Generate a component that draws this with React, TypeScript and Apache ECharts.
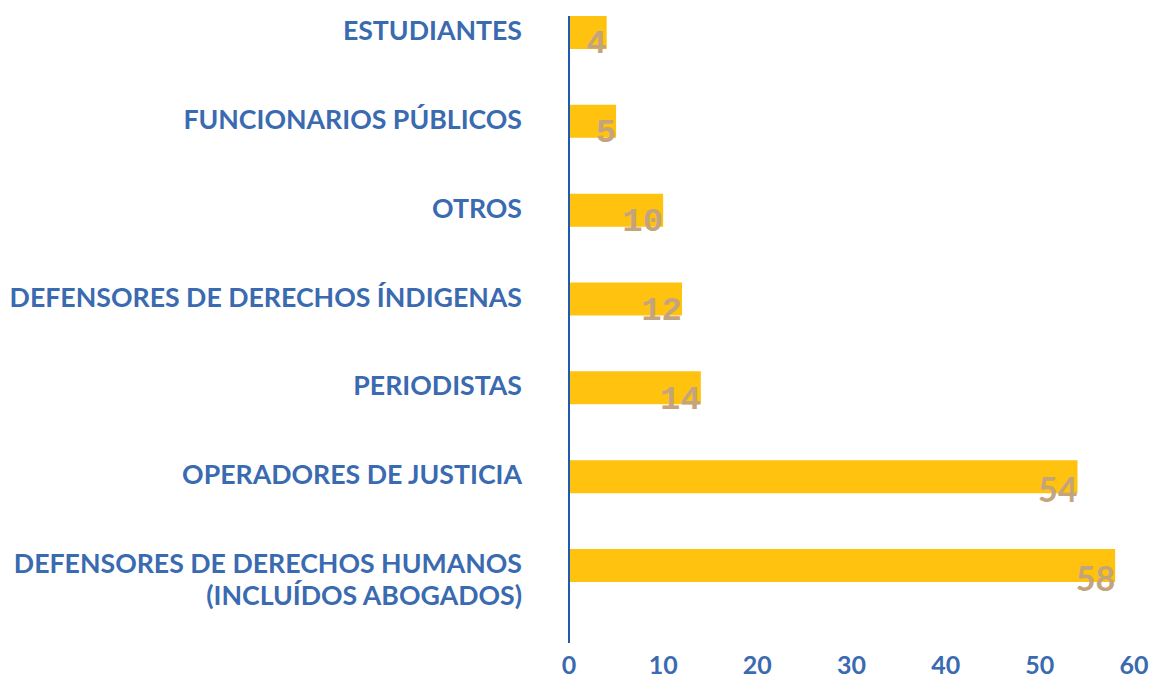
import React, { useEffect, useRef } from "react";
import * as echarts from "echarts";

const categories = [
  "ESTUDIANTES",
  "FUNCIONARIOS PÚBLICOS",
  "OTROS",
  "DEFENSORES DE DERECHOS ÍNDIGENAS",
  "PERIODISTAS",
  "OPERADORES DE JUSTICIA",
  "DEFENSORES DE DERECHOS HUMANOS\n(INCLUÍDOS ABOGADOS)",
];
const values = [4, 5, 10, 12, 14, 54, 58];
const monoLabels = [true, true, true, true, true, false, false];
const xTicks = { min: 0, max: 60, interval: 10 };

const BLUE = "#3A6AB0";
const BAR = "#FFC20E";
const LABEL = "#C4A47C";
const FS = 26.7;

export default function App() {
  const ref = useRef<HTMLDivElement>(null);
  useEffect(() => {
    if (!ref.current) return;
    const chart = echarts.init(ref.current, undefined, { renderer: "svg" });
    const base = { color: BLUE, fontFamily: "Lato", fontWeight: "bold", fontSize: FS };
    chart.setOption({
      animation: false,
      grid: { left: 569, right: 20, top: 0, bottom: 67, containLabel: false },
      xAxis: {
        type: "value",
        min: xTicks.min,
        max: xTicks.max,
        interval: xTicks.interval,
        splitLine: { show: false },
        axisLine: { show: false },
        axisTick: { show: false },
        axisLabel: {
          color: BLUE,
          fontFamily: "Lato",
          fontWeight: "bold",
          fontSize: 25,
          margin: 41,
        },
      },
      yAxis: {
        type: "category",
        inverse: true,
        data: categories,
        axisLine: { show: false },
        axisTick: { show: false },
        axisLabel: {
          margin: 47,
          ...base,
          align: "right",
          formatter: (v: string) => {
            const parts = v.split("\n");
            if (parts.length === 1) return "{s|" + v + "}";
            return "{g| }\n{l|" + parts[0] + "}\n{l|" + parts[1] + "}";
          },
          rich: {
            s: { ...base, lineHeight: 32, padding: [0, 0, 5, 0] },
            g: { ...base, fontSize: 10, lineHeight: 26 },
            l: { ...base, lineHeight: 32 },
          },
        },
      },
      graphic: [
        {
          type: "line",
          shape: { x1: 569, y1: 28, x2: 569, y2: 655 },
          style: { stroke: "#1E5AAE", lineWidth: 2 },
          z: 10,
        },
      ],
      series: [
        {
          type: "bar",
          barWidth: 33,
          itemStyle: { color: BAR },
          data: values.map((v, i) => ({
            value: v,
            label: {
              fontFamily: monoLabels[i] ? "Liberation Mono" : "Lato",
            },
          })),
          label: {
            show: true,
            position: "insideRight",
            distance: 0,
            offset: [0, 12],
            color: LABEL,
            fontSize: 34,
            fontWeight: "bold",
          },
        },
      ],
    });
    return () => chart.dispose();
  }, []);
  return (
    <div
      ref={ref}
      style={{ position: "fixed", left: 0, top: -12, width: 1154, height: 689, background: "#fff" }}
    />
  );
}
